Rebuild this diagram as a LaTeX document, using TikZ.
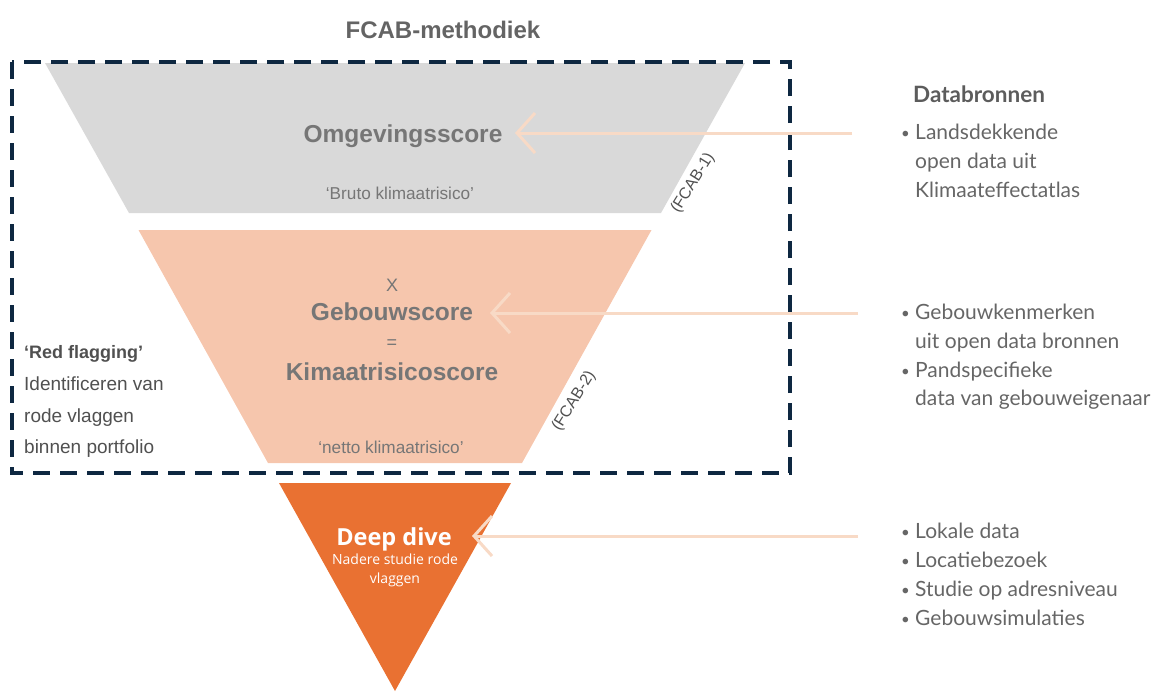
\documentclass[tikz,border=0pt]{standalone}
\usepackage{fontspec}
\setmainfont{Liberation Sans}
\newfontfamily\latof{Lato}
\newfontfamily\opensf{Open Sans}
\usetikzlibrary{arrows.meta}
\definecolor{boxnavy}{HTML}{0E2841}
\definecolor{grayfill}{HTML}{D9D9D9}
\definecolor{peachfill}{HTML}{F6C6AD}
\definecolor{orangefill}{HTML}{E97132}
\definecolor{arrowc}{HTML}{F8DAC6}
\definecolor{txtgray}{HTML}{767676}
\definecolor{rightgray}{HTML}{666666}
\definecolor{leftgray}{HTML}{505050}
\newcommand{\bul}{\makebox[14pt][l]{\raisebox{1pt}{\fontsize{15}{15}\selectfont •}}}
\begin{document}
\begin{tikzpicture}[x=1pt,y=-1pt,
  lvl/.style={inner sep=0pt},
  big/.style={lvl,anchor=base,text=txtgray,font=\bfseries\fontsize{24.5}{28}\selectfont},
  small/.style={lvl,anchor=base,text=txtgray,font=\fontsize{17.2}{20}\selectfont},
  rt/.style={lvl,anchor=base west,text=rightgray,font=\latof\fontsize{21}{24}\selectfont},
  lt/.style={lvl,anchor=base west,text=leftgray,font=\fontsize{19}{22}\selectfont},
  fcab/.style={lvl,rotate=58,text=leftgray,font=\fontsize{16}{18}\selectfont},
  arr/.style={draw=arrowc,line width=3pt,-{Straight Barb[length=18pt,width=40pt,line width=3pt]}}
]
\useasboundingbox (0,0) rectangle (1153,691);
% funnel levels
\fill[grayfill] (45,63) -- (745,63) -- (661,213) -- (129,213) -- cycle;
\fill[peachfill] (138.5,230) -- (651.5,230) -- (522,463) -- (268,463) -- cycle;
\fill[orangefill] (279,483) -- (511,483) -- (395,691) -- cycle;
% dashed frame
\draw[boxnavy,line width=4pt,dash pattern=on 17pt off 10pt] (12,62) rectangle (790,473);
% title
\node[lvl,anchor=base,text=txtgray!85!black,font=\bfseries\fontsize{24}{28}\selectfont] (title) at (443,38) {FCAB-methodiek};
% level texts
\node[big] (omg) at (403,142) {Omgevingsscore};
\node[small] (bruto) at (400,199) {‘Bruto klimaatrisico’};
\node[fcab] (f1) at (693,183) {(FCAB-1)};
\node[small,font=\fontsize{18}{20}\selectfont] (times) at (392,291) {X};
\node[big] (geb) at (392,320) {Gebouwscore};
\node[small,font=\fontsize{18}{20}\selectfont] (eq) at (392,348) {=};
\node[big] (kim) at (392,380) {Kimaatrisicoscore};
\node[small] (netto) at (391,453) {‘netto klimaatrisico’};
\node[fcab] (f2) at (574,401) {(FCAB-2)};
\node[lvl,anchor=base,text=white,font=\opensf\bfseries\fontsize{23.5}{26}\selectfont] (deep) at (394,545) {Deep dive};
\node[lvl,anchor=base,text=white,font=\opensf\fontsize{14}{16}\selectfont] (nad1) at (395,564) {Nadere studie rode};
\node[lvl,anchor=base,text=white,font=\opensf\fontsize{14}{16}\selectfont] (nad2) at (395,583) {vlaggen};
% left text
\node[lt,font=\bfseries\fontsize{18}{20}\selectfont] (rf) at (24,358) {‘Red flagging’};
\node[lt] (l1) at (24,390) {Identificeren van};
\node[lt] (l2) at (24,422) {rode vlaggen};
\node[lt] (l3) at (24,453) {binnen portfolio};
% right text
\node[rt,font=\latof\bfseries\fontsize{22.5}{26}\selectfont,text=rightgray!90!black] (db) at (913,102) {Databronnen};
\node[rt] (r1a) at (901,139) {\bul Landsdekkende};
\node[rt] (r1b) at (915,168) {open data uit};
\node[rt] (r1c) at (915,197) {Klimaateffectatlas};
\node[rt] (r2a) at (901,319) {\bul Gebouwkenmerken};
\node[rt] (r2b) at (915,348) {uit open data bronnen};
\node[rt] (r2c) at (901,377) {\bul Pandspecifieke};
\node[rt] (r2d) at (915,405) {data van gebouweigenaar};
\node[rt] (r3a) at (901,538.5) {\bul Lokale data};
\node[rt] (r3b) at (901,567.5) {\bul Locatiebezoek};
\node[rt] (r3c) at (901,596.5) {\bul Studie op adresniveau};
\node[rt] (r3d) at (901,625.5) {\bul Gebouwsimulaties};
% arrows
\coordinate (a1s) at (852,133); \coordinate (a1t) at (515,133);
\coordinate (a2s) at (858,313); \coordinate (a2t) at (490,313);
\coordinate (a3s) at (858,536); \coordinate (a3t) at (472,536);
\draw[arr] (a1s) -- (a1t);
\draw[arr] (a2s) -- (a2t);
\draw[arr] (a3s) -- (a3t);
\end{tikzpicture}
\end{document}
